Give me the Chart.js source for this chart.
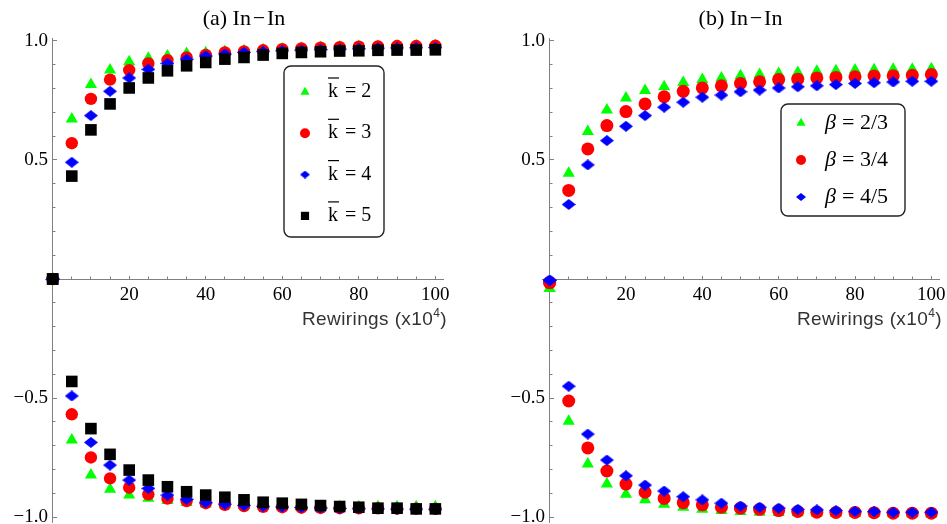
<!DOCTYPE html>
<html>
<head>
<meta charset="utf-8">
<script src="https://cdn.jsdelivr.net/npm/chart.js@4.4.0/dist/chart.umd.min.js"></script>
<style>
  html, body { margin: 0; padding: 0; background: #fff; }
  #wrap { position: relative; width: 947px; height: 524px; }
  canvas { position: absolute; top: 0; }
  #chartA { left: 0; }
  #chartB { left: 473px; }
</style>
</head>
<body>
<div id="wrap">
  <canvas id="chartA" width="473" height="524"></canvas>
  <canvas id="chartB" width="474" height="524"></canvas>
</div>
<script>
// Data
const rewirings = [0, 5, 10, 15, 20, 25, 30, 35, 40, 45, 50, 55, 60, 65, 70, 75, 80, 85, 90, 95, 100];

// (a) upper and lower branches, one per mean degree
const k2Up = [0, 0.672, 0.816, 0.877, 0.912, 0.927, 0.936, 0.947, 0.950, 0.955, 0.958, 0.962, 0.966, 0.969, 0.972, 0.974, 0.976, 0.977, 0.978, 0.979, 0.980];
const k3Up = [0, 0.570, 0.756, 0.837, 0.877, 0.905, 0.919, 0.930, 0.941, 0.951, 0.955, 0.960, 0.965, 0.968, 0.971, 0.973, 0.975, 0.976, 0.978, 0.978, 0.979];
const k4Up = [0, 0.490, 0.686, 0.788, 0.844, 0.880, 0.905, 0.922, 0.936, 0.944, 0.951, 0.955, 0.958, 0.961, 0.963, 0.965, 0.967, 0.969, 0.970, 0.971, 0.972];
const k5Up = [0, 0.432, 0.626, 0.735, 0.802, 0.844, 0.874, 0.895, 0.909, 0.923, 0.930, 0.940, 0.947, 0.951, 0.954, 0.957, 0.958, 0.960, 0.961, 0.961, 0.962];
const k2Down = [0, -0.676, -0.823, -0.883, -0.907, -0.920, -0.930, -0.938, -0.944, -0.948, -0.951, -0.953, -0.954, -0.955, -0.955, -0.956, -0.956, -0.956, -0.956, -0.956, -0.956];
const k3Down = [0, -0.568, -0.749, -0.837, -0.876, -0.904, -0.922, -0.932, -0.941, -0.948, -0.953, -0.956, -0.958, -0.960, -0.961, -0.962, -0.963, -0.963, -0.964, -0.964, -0.965];
const k4Down = [0, -0.491, -0.686, -0.781, -0.844, -0.879, -0.907, -0.925, -0.939, -0.945, -0.950, -0.954, -0.957, -0.959, -0.961, -0.963, -0.964, -0.965, -0.966, -0.966, -0.967];
const k5Down = [0, -0.430, -0.628, -0.736, -0.802, -0.844, -0.872, -0.893, -0.907, -0.916, -0.927, -0.937, -0.941, -0.946, -0.951, -0.955, -0.958, -0.962, -0.962, -0.965, -0.965];

// (b) upper and lower branches, one per beta
const b23Up = [-0.04, 0.444, 0.619, 0.709, 0.760, 0.791, 0.807, 0.825, 0.837, 0.844, 0.853, 0.858, 0.863, 0.867, 0.872, 0.874, 0.877, 0.878, 0.880, 0.881, 0.883];
const b34Up = [-0.015, 0.372, 0.546, 0.644, 0.703, 0.735, 0.765, 0.788, 0.802, 0.811, 0.821, 0.828, 0.837, 0.839, 0.844, 0.846, 0.849, 0.852, 0.853, 0.855, 0.858];
const b45Up = [-0.005, 0.313, 0.479, 0.581, 0.641, 0.686, 0.721, 0.742, 0.763, 0.772, 0.786, 0.793, 0.802, 0.807, 0.811, 0.816, 0.821, 0.824, 0.827, 0.830, 0.830];
const b23Down = [-0.04, -0.597, -0.777, -0.861, -0.904, -0.927, -0.946, -0.958, -0.967, -0.972, -0.976, -0.979, -0.980, -0.981, -0.982, -0.983, -0.984, -0.984, -0.985, -0.985, -0.986];
const b34Down = [-0.015, -0.512, -0.709, -0.806, -0.861, -0.895, -0.921, -0.939, -0.948, -0.958, -0.962, -0.967, -0.972, -0.976, -0.979, -0.980, -0.980, -0.981, -0.983, -0.983, -0.983];
const b45Down = [-0.005, -0.450, -0.651, -0.760, -0.826, -0.865, -0.890, -0.914, -0.927, -0.941, -0.953, -0.958, -0.962, -0.967, -0.969, -0.972, -0.975, -0.976, -0.979, -0.979, -0.979];

// Ticks
const xMajorTicks = [20, 40, 60, 80, 100];
const xMinorTicks = [5, 10, 15, 25, 30, 35, 45, 50, 55, 65, 70, 75, 85, 90, 95];
const yMajorTicks = [-1.0, -0.5, 0.5, 1.0];
const yMinorTicks = [-0.9, -0.8, -0.7, -0.6, -0.4, -0.3, -0.2, -0.1, 0.1, 0.2, 0.3, 0.4, 0.6, 0.7, 0.8, 0.9];

const kLabels = ['2', '3', '4', '5'];
const betaLabels = ['2/3', '3/4', '4/5'];

// Styling
const serif = '"Liberation Serif", "Times New Roman", serif';
const sans = '"Liberation Sans", Arial, sans-serif';
const axisGrey = '#808080';
const GREEN = '#00ff00', RED = '#ff0000', BLUE = '#0000ff', BLACK = '#000000';

function diamondImg(w, h, color) {
    const c = document.createElement('canvas');
    c.width = w;
    c.height = h;
    const g = c.getContext('2d');
    g.fillStyle = color;
    g.beginPath();
    g.moveTo(w / 2, 0);
    g.lineTo(w, h / 2);
    g.lineTo(w / 2, h);
    g.lineTo(0, h / 2);
    g.closePath();
    g.fill();
    return c;
}
const bigDiamond = diamondImg(14, 11, BLUE);
const smallDiamond = diamondImg(10, 8, BLUE);

function series(ys, color, style, radius, order) {
    return {
        data: rewirings.map((x, i) => ({ x: x, y: ys[i] })),
        showLine: false,
        pointStyle: style,
        pointRadius: radius,
        pointBackgroundColor: color,
        pointBorderColor: color,
        pointBorderWidth: 0,
        order: order,
        clip: false
    };
}

// axes sit on the origin and must not eat layout space
function flatten(s) {
    if (s.isHorizontal()) s.height = 0; else s.width = 0;
    s.paddingLeft = s.paddingRight = s.paddingTop = s.paddingBottom = 0;
}
function fixTicks(values) {
    return s => { s.ticks = values.map(v => ({ value: v })); };
}
function fmtY(v) {
    return (v < 0 ? '\u2212' : '') + Math.abs(v).toFixed(1) + ' ';
}

function axes() {
    const xr = { type: 'linear', axis: 'x', min: -2, max: 102, position: { y: 0 }, afterFit: flatten };
    const yr = { type: 'linear', axis: 'y', min: -1.02, max: 1.01, position: { x: 0 }, afterFit: flatten };
    return {
        x: Object.assign({}, xr, {
            afterBuildTicks: fixTicks(xMajorTicks),
            border: { display: true, color: axisGrey, width: 1 },
            grid: { drawOnChartArea: false, tickLength: -4, tickColor: axisGrey, tickWidth: 1 },
            ticks: { padding: 9, color: '#000', autoSkip: false, maxRotation: 0,
                     font: { family: serif, size: 19 }, callback: v => String(v) }
        }),
        xm: Object.assign({}, xr, {
            afterBuildTicks: fixTicks(xMinorTicks),
            border: { display: false },
            grid: { drawOnChartArea: false, tickLength: -2.5, tickColor: axisGrey, tickWidth: 1 },
            ticks: { display: false }
        }),
        y: Object.assign({}, yr, {
            afterBuildTicks: fixTicks(yMajorTicks),
            border: { display: true, color: axisGrey, width: 1 },
            grid: { drawOnChartArea: false, tickLength: -5, tickColor: axisGrey, tickWidth: 1 },
            ticks: { padding: 10, color: '#000', autoSkip: false,
                     font: { family: serif, size: 19 }, callback: fmtY }
        }),
        ym: Object.assign({}, yr, {
            afterBuildTicks: fixTicks(yMinorTicks),
            border: { display: false },
            grid: { drawOnChartArea: false, tickLength: -2.5, tickColor: axisGrey, tickWidth: 1 },
            ticks: { display: false }
        })
    };
}

function roundRect(ctx, x, y, w, h, r) {
    ctx.beginPath();
    ctx.moveTo(x + r, y);
    ctx.arcTo(x + w, y, x + w, y + h, r);
    ctx.arcTo(x + w, y + h, x, y + h, r);
    ctx.arcTo(x, y + h, x, y, r);
    ctx.arcTo(x, y, x + w, y, r);
    ctx.closePath();
}

function marker(ctx, style, radius, x, y) {
    if (Chart.helpers && Chart.helpers.drawPoint) {
        Chart.helpers.drawPoint(ctx, { pointStyle: style, radius: radius, rotation: 0, borderWidth: 0 }, x, y);
    }
}

// axis caption + boxed legend
const decor = {
    id: 'decor',
    afterDraw(chart, args, opts) {
        const ctx = chart.ctx;
        const xs = chart.scales.x, ys = chart.scales.y;
        ctx.save();

        // Rewirings (x10^4)
        const right = xs.right + opts.captionDx;
        const base = ys.getPixelForValue(0) + 46;
        ctx.fillStyle = '#333';
        ctx.textBaseline = 'alphabetic';
        ctx.textAlign = 'right';
        ctx.letterSpacing = '0.4px';
        ctx.font = '19px ' + sans;
        ctx.fillText(')', right, base);
        let r = right - ctx.measureText(')').width;
        ctx.font = '12px ' + sans;
        ctx.fillText('4', r, base - 8);
        r -= ctx.measureText('4').width;
        ctx.font = '19px ' + sans;
        ctx.fillText('Rewirings (x10', r, base);
        ctx.letterSpacing = '0px';

        // legend
        const b = opts.box;
        roundRect(ctx, b.x, b.y, b.w, b.h, 7);
        ctx.lineWidth = 1.4;
        ctx.strokeStyle = '#222';
        ctx.stroke();
        ctx.textAlign = 'left';
        opts.items.forEach((it, i) => {
            const y = b.firstY + i * b.step;
            ctx.fillStyle = it.color;
            marker(ctx, it.style, it.radius, b.markX, y);
            ctx.fillStyle = '#000';
            const tb = y + b.baseDy;
            if (it.symbol === 'k') {
                ctx.font = b.size + 'px ' + serif;
                ctx.fillText('k', b.textX, tb);
                const w = ctx.measureText('k').width;
                ctx.beginPath();
                ctx.moveTo(b.textX, tb - b.size + 1);
                ctx.lineTo(b.textX + w + 1, tb - b.size + 1);
                ctx.lineWidth = 1.2;
                ctx.strokeStyle = '#000';
                ctx.stroke();
            } else {
                ctx.font = 'italic ' + b.size + 'px ' + serif;
                ctx.fillText('\u03B2', b.textX, tb);
            }
            ctx.font = b.size + 'px ' + serif;
            ctx.fillText('= ' + it.label, b.eqX, tb);
        });
        ctx.restore();
    }
};

function baseOptions(title, padLeft, padRight, decorOpts) {
    return {
        responsive: false,
        animation: false,
        events: [],
        layout: { autoPadding: false, padding: { left: padLeft, right: padRight, top: 0, bottom: 2 } },
        scales: axes(),
        plugins: {
            legend: { display: false },
            tooltip: { enabled: false },
            title: {
                display: true, text: title, color: '#000',
                font: { family: serif, size: 22, weight: 'normal' },
                padding: { top: 6, bottom: 6 }
            },
            decor: decorOpts
        }
    };
}

new Chart(document.getElementById('chartA'), {
    type: 'scatter',
    data: {
        datasets: [
            series(k2Up, GREEN, 'triangle', 7, 4),
            series(k2Down, GREEN, 'triangle', 7, 4),
            series(k3Up, RED, 'circle', 6.2, 3),
            series(k3Down, RED, 'circle', 6.2, 3),
            series(k4Up, BLUE, bigDiamond, 7, 2),
            series(k4Down, BLUE, bigDiamond, 7, 2),
            series(k5Up, BLACK, 'rect', 8.2, 1),
            series(k5Down, BLACK, 'rect', 8.2, 1)
        ]
    },
    options: baseOptions('(a) In\u200A\u2212\u200AIn', 45, 30, {
        captionDx: 4,
        box: { x: 284, y: 66, w: 100, h: 171, markX: 305, firstY: 92, step: 41.3,
               textX: 328, eqX: 345, size: 20, baseDy: 5 },
        items: [
            { symbol: 'k', label: kLabels[0], color: GREEN, style: 'triangle', radius: 5.3 },
            { symbol: 'k', label: kLabels[1], color: RED, style: 'circle', radius: 5 },
            { symbol: 'k', label: kLabels[2], color: BLUE, style: smallDiamond, radius: 5 },
            { symbol: 'k', label: kLabels[3], color: BLACK, style: 'rect', radius: 5.8 }
        ]
    }),
    plugins: [decor]
});

new Chart(document.getElementById('chartB'), {
    type: 'scatter',
    data: {
        datasets: [
            series(b23Up, GREEN, 'triangle', 7, 3),
            series(b23Down, GREEN, 'triangle', 7, 3),
            series(b34Up, RED, 'circle', 6.5, 2),
            series(b34Down, RED, 'circle', 6.5, 2),
            series(b45Up, BLUE, bigDiamond, 7, 1),
            series(b45Down, BLUE, bigDiamond, 7, 1)
        ]
    },
    options: baseOptions('(b) In\u200A\u2212\u200AIn', 69, 8, {
        captionDx: 3,
        box: { x: 308, y: 104, w: 124, h: 112, markX: 328, firstY: 123, step: 37,
               textX: 352, eqX: 369, size: 22, baseDy: 6 },
        items: [
            { symbol: 'beta', label: betaLabels[0], color: GREEN, style: 'triangle', radius: 5.3 },
            { symbol: 'beta', label: betaLabels[1], color: RED, style: 'circle', radius: 5 },
            { symbol: 'beta', label: betaLabels[2], color: BLUE, style: smallDiamond, radius: 5 }
        ]
    }),
    plugins: [decor]
});
</script>
</body>
</html>
